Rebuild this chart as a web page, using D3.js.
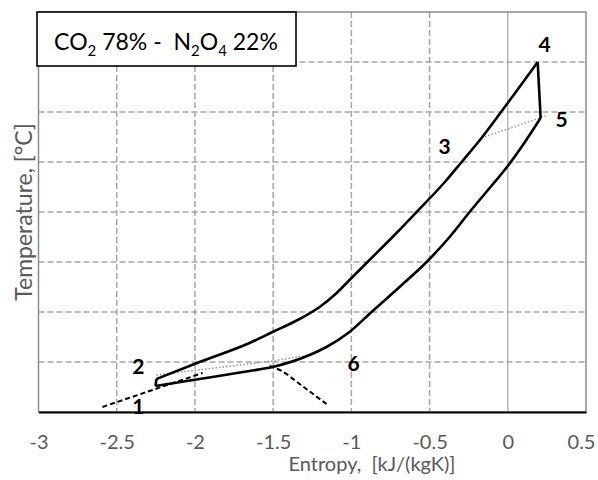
<!DOCTYPE html>
<html>
<head>
<meta charset="utf-8">
<script src="https://cdn.jsdelivr.net/npm/d3@7"></script>
<style>
  body { margin: 0; background: #fff; }
  svg { font-family: Lato, "Open Sans", sans-serif; }
  text { white-space: pre; }
</style>
</head>
<body>
<svg id="chart" width="598" height="480"></svg>
<script>
// entropy [kJ/(kgK)], temperature (grid units, axis labels not shown)
var highS = [-2.246, -1.971, -1.651, -1.504, -1.331, -1.203, -1.101, -0.999, -0.884, -0.724, -0.583, -0.391, -0.295, -0.168, -0.043, 0.191];
var highT = [66, 100, 138, 160, 186, 210, 236, 268, 304, 354, 400, 464, 500, 548, 600, 700];

var lowS = [-2.252, -1.971, -1.651, -1.504, -1.267, -1.159, -1.012, -0.871, -0.692, -0.519, -0.372, -0.244, -0.116, 0.000, 0.101, 0.210];
var lowT = [52, 66, 82, 90, 114, 130, 160, 200, 250, 300, 350, 400, 448, 492, 536, 588];

// saturation dome pieces (dashed)
var domeLS = [-2.591, -1.951];
var domeLT = [10, 78];
var domeRS = [-1.523, -1.446, -1.331, -1.159];
var domeRT = [92, 82, 56, 16];

// ideal (dotted) lines
var dot35S = [-0.168, 0.242];
var dot35T = [548, 592];
var dotLowS = [-2.246, -1.504, -1.267];
var dotLowT = [74, 102, 114];

var pointNames = ["1", "2", "3", "4", "5", "6"];
var pointS = [-2.361, -2.361, -0.404, 0.235, 0.344, -0.986];
var pointT = [14, 94, 534, 738, 588, 100];

var xTicks = [-3, -2.5, -2, -1.5, -1, -0.5, 0, 0.5];
var yTicks = [100, 200, 300, 400, 500, 600, 700];

var svg = d3.select("#chart");
var plotL = 38.5, plotR = 586, plotT = 12, plotB = 412;

var x = d3.scaleLinear().domain([-3, 0.5]).range([plotL, plotR]);
var y = d3.scaleLinear().domain([0, 800]).range([plotB, plotT]);

var grid = svg.append("g");
grid.selectAll("line.h").data(yTicks).enter().append("line")
    .attr("x1", plotL).attr("x2", plotR)
    .attr("y1", d => y(d)).attr("y2", d => y(d))
    .attr("stroke", "#a6a6a6").attr("stroke-width", 1.5)
    .attr("stroke-dasharray", "6,3");
grid.selectAll("line.v").data(xTicks.filter(d => d > -3 && d < 0.5)).enter().append("line")
    .attr("x1", d => x(d)).attr("x2", d => x(d))
    .attr("y1", plotT).attr("y2", plotB)
    .attr("stroke", "#a6a6a6")
    .attr("stroke-width", d => d === 0 ? 1.2 : 1.5)
    .attr("stroke-dasharray", d => d === 0 ? null : "6,3");

// frame
svg.append("rect")
    .attr("x", plotL).attr("y", plotT)
    .attr("width", plotR - plotL).attr("height", plotB - plotT)
    .attr("fill", "none").attr("stroke", "#8c8c8c").attr("stroke-width", 1.5);

// x axis
var xAxis = d3.axisBottom(x).tickValues(xTicks).tickSize(0).tickPadding(23)
    .tickFormat(d => String(d));
var ax = svg.append("g").attr("transform", "translate(0," + plotB + ")").call(xAxis);
ax.select(".domain").attr("stroke", "#000").attr("stroke-width", 2);
ax.selectAll("text").attr("fill", "#595959").style("font-size", "20px")
    .style("font-family", "Lato, 'Open Sans', sans-serif");
ax.selectAll(".tick").filter(d => d === 0.5).select("text").attr("x", -5);

function zip(s, t) { return s.map((v, i) => [v, t[i]]); }

var smooth = d3.line().x(d => x(d[0])).y(d => y(d[1])).curve(d3.curveMonotoneX);
var straight = d3.line().x(d => x(d[0])).y(d => y(d[1]));

// dotted lines
[zip(dot35S, dot35T), zip(dotLowS, dotLowT)].forEach(function (pts) {
    svg.append("path").attr("d", straight(pts))
        .attr("fill", "none").attr("stroke", "#9a9a9a").attr("stroke-width", 1.6)
        .attr("stroke-dasharray", "1.5,2");
});

// dashed dome
svg.append("path").attr("d", straight(zip(domeLS, domeLT)))
    .attr("fill", "none").attr("stroke", "#000").attr("stroke-width", 2)
    .attr("stroke-dasharray", "5,3");
svg.append("path").attr("d", smooth(zip(domeRS, domeRT)))
    .attr("fill", "none").attr("stroke", "#000").attr("stroke-width", 2)
    .attr("stroke-dasharray", "5,3");

// cycle curves
var high = zip(highS, highT), low = zip(lowS, lowT);
svg.append("path").attr("d", smooth(high))
    .attr("fill", "none").attr("stroke", "#000").attr("stroke-width", 2.6);
svg.append("path").attr("d", smooth(low))
    .attr("fill", "none").attr("stroke", "#000").attr("stroke-width", 2.6);
// vertical links 1-2 and 4-5
[[low[0], high[0]], [high[high.length - 1], low[low.length - 1]]].forEach(function (seg) {
    svg.append("path").attr("d", straight(seg))
        .attr("fill", "none").attr("stroke", "#000").attr("stroke-width", 2.6);
});

// point labels
svg.selectAll("text.pt").data(pointNames).enter().append("text")
    .attr("x", (d, i) => x(pointS[i]))
    .attr("y", (d, i) => y(pointT[i]))
    .attr("text-anchor", "middle").attr("dominant-baseline", "central")
    .style("font-size", "21px").style("font-weight", "bold")
    .text(d => d);

// axis titles
svg.append("text").attr("x", 372).attr("y", 463)
    .attr("text-anchor", "middle").attr("dominant-baseline", "central")
    .attr("fill", "#595959").style("font-size", "20px")
    .text("Entropy,  [kJ/(kgK)]");
svg.append("text")
    .attr("transform", "translate(23,212) rotate(-90)")
    .attr("text-anchor", "middle").attr("dominant-baseline", "central")
    .attr("fill", "#595959").style("font-size", "23px")
    .text("Temperature, [°C]");

// title box
svg.append("rect").attr("x", 37).attr("y", 12).attr("width", 259).attr("height", 54)
    .attr("fill", "#fff").attr("stroke", "#000").attr("stroke-width", 1.6);
var title = svg.append("text").attr("x", 166).attr("y", 50)
    .attr("text-anchor", "middle").style("font-size", "23px").attr("fill", "#000");
title.append("tspan").text("CO");
title.append("tspan").attr("dy", 6).style("font-size", "15px").text("2");
title.append("tspan").attr("dy", -6).text(" 78% -  N");
title.append("tspan").attr("dy", 6).style("font-size", "15px").text("2");
title.append("tspan").attr("dy", -6).text("O");
title.append("tspan").attr("dy", 6).style("font-size", "15px").text("4");
title.append("tspan").attr("dy", -6).text(" 22%");
</script>
</body>
</html>
